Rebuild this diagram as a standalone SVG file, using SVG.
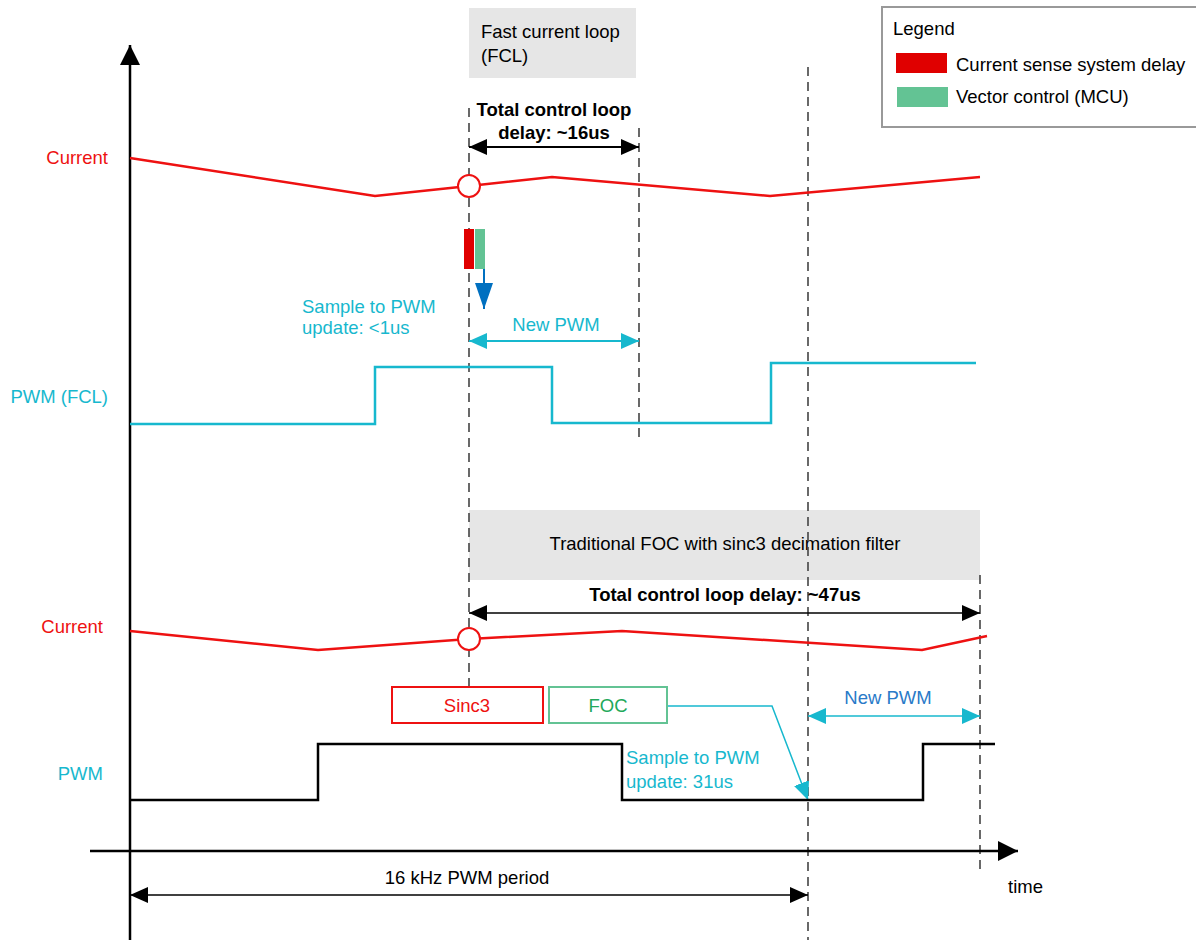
<svg xmlns="http://www.w3.org/2000/svg" width="1196" height="940" viewBox="0 0 1196 940">
<style>
text{font-family:"Liberation Sans",Arial,sans-serif;font-size:18.5px}
.b{font-weight:bold}
.red{fill:#EE1111}
.cy{fill:#17B8CE}
.blk{fill:#000}
.dash{stroke:#444;stroke-width:1.6;stroke-dasharray:9,6;fill:none}
.ax{stroke:#000;stroke-width:2.5;fill:none}
.cur{stroke:#EE1111;stroke-width:2.5;fill:none}
.pwmc{stroke:#17B8CE;stroke-width:2.5;fill:none}
.pwmk{stroke:#000;stroke-width:2.5;fill:none}
</style>
<defs>
<marker id="ak" markerUnits="userSpaceOnUse" markerWidth="20" markerHeight="20" refX="18" refY="8" orient="auto-start-reverse" viewBox="0 0 20 16"><path d="M0,0 L18,8 L0,16 Z" fill="#000"/></marker>
<marker id="ac" markerUnits="userSpaceOnUse" markerWidth="20" markerHeight="20" refX="18" refY="8" orient="auto-start-reverse" viewBox="0 0 20 16"><path d="M0,0 L18,8 L0,16 Z" fill="#17B8CE"/></marker>
<marker id="ab" markerUnits="userSpaceOnUse" markerWidth="28" markerHeight="20" refX="26" refY="9" orient="auto" viewBox="0 0 28 18"><path d="M0,0 L26,9 L0,18 Z" fill="#0070C0"/></marker>
<marker id="axa" markerUnits="userSpaceOnUse" markerWidth="22" markerHeight="20" refX="20" refY="10" orient="auto" viewBox="0 0 22 20"><path d="M0,0 L20,10 L0,20 Z" fill="#000"/></marker>
</defs>

<g id="headers">
<g id="fcl-box"><rect x="469" y="8" width="167" height="70" fill="#E6E6E6"/><text x="481" y="38" class="blk">Fast current loop</text><text x="481" y="62" class="blk">(FCL)</text></g>
<g id="foc-box"><rect x="469" y="510" width="511" height="70" fill="#E6E6E6"/><text x="725" y="550" text-anchor="middle" class="blk">Traditional FOC with sinc3 decimation filter</text></g>
</g>

<g id="legend">
<rect x="882" y="7" width="320" height="120" fill="#fff" stroke="#999" stroke-width="2"/>
<text x="893" y="35" class="blk">Legend</text>
<rect x="896" y="53" width="51" height="20" fill="#E00000"/>
<text x="956" y="71" class="blk">Current sense system delay</text>
<rect x="897" y="87" width="51" height="20" fill="#63C394"/>
<text x="956" y="103" class="blk">Vector control (MCU)</text>
</g>

<g id="connectors">
<path class="dash" d="M469,108 V686"/>
<path class="dash" d="M639,128 V443"/>
<path class="dash" d="M808,67 V940"/>
<path class="dash" d="M980,575 V870"/>

<path class="ax" d="M130,940 V45" marker-end="url(#axa)"/>
<path class="ax" d="M90,851 H1018" marker-end="url(#axa)"/>

<path d="M469,147 H639" stroke="#000" stroke-width="2" marker-start="url(#ak)" marker-end="url(#ak)"/>
<path d="M469,341 H639" stroke="#17B8CE" stroke-width="2" marker-start="url(#ac)" marker-end="url(#ac)"/>
<path d="M469,613 H980" stroke="#000" stroke-width="1.5" marker-start="url(#ak)" marker-end="url(#ak)"/>
<path d="M808,716 H980" stroke="#17B8CE" stroke-width="1.5" marker-start="url(#ac)" marker-end="url(#ac)"/>
<path d="M130,895 H808" stroke="#000" stroke-width="1.5" marker-start="url(#ak)" marker-end="url(#ak)"/>
<path d="M484,268 V309" stroke="#0070C0" stroke-width="2" fill="none" marker-end="url(#ab)"/>
<path d="M667,706 H772 L808,800" stroke="#17B8CE" stroke-width="1.5" fill="none" marker-end="url(#ac)"/>
</g>

<g id="signals">
<polyline class="cur" points="130,158 375,196 469,186 552,177 770,196 980,177"/>
<circle cx="469" cy="186" r="11" fill="#fff" stroke="#EE1111" stroke-width="2"/>
<polyline class="pwmc" points="130,424 375,424 375,367 552,367 552,423 771,423 771,363 976,363"/>
<polyline class="cur" points="130,631 318,650 469,639 622,631 922,650 987,636"/>
<circle cx="469" cy="639" r="11" fill="#fff" stroke="#EE1111" stroke-width="2"/>
<polyline class="pwmk" points="130,800 318,800 318,744 622,744 622,800 923,800 923,744 995,744"/>
</g>

<g id="delay-bars">
<rect x="464" y="229" width="10" height="40" fill="#E00000"/>
<rect x="475" y="229" width="10" height="40" fill="#63C394"/>
</g>

<g id="sinc3"><rect x="392" y="687" width="151" height="36" fill="#fff" stroke="#EE1111" stroke-width="2"/><text x="467" y="712" text-anchor="middle" class="red">Sinc3</text></g>
<g id="foc"><rect x="549" y="687" width="118" height="36" fill="#fff" stroke="#63C394" stroke-width="2"/><text x="608" y="712" text-anchor="middle" fill="#22A85A">FOC</text></g>

<g id="labels">
<text x="108" y="164" text-anchor="end" class="red">Current</text>
<text x="108" y="403" text-anchor="end" class="cy">PWM (FCL)</text>
<text x="103" y="633" text-anchor="end" class="red">Current</text>
<text x="103" y="780" text-anchor="end" class="cy">PWM</text>
<text x="554" y="116" text-anchor="middle" class="b">Total control loop</text>
<text x="554" y="139" text-anchor="middle" class="b">delay: ~16us</text>
<text x="302" y="313" class="cy">Sample to PWM</text>
<text x="302" y="334" class="cy">update: &lt;1us</text>
<text x="556" y="331" text-anchor="middle" class="cy">New PWM</text>
<text x="725" y="601" text-anchor="middle" class="b">Total control loop delay: ~47us</text>
<text x="626" y="764" class="cy">Sample to PWM</text>
<text x="626" y="788" class="cy">update: 31us</text>
<text x="888" y="704" text-anchor="middle" fill="#2A7AC8">New PWM</text>
<text x="467" y="884" text-anchor="middle" class="blk">16 kHz PWM period</text>
<text x="1008" y="893" class="blk">time</text>
</g>
</svg>
